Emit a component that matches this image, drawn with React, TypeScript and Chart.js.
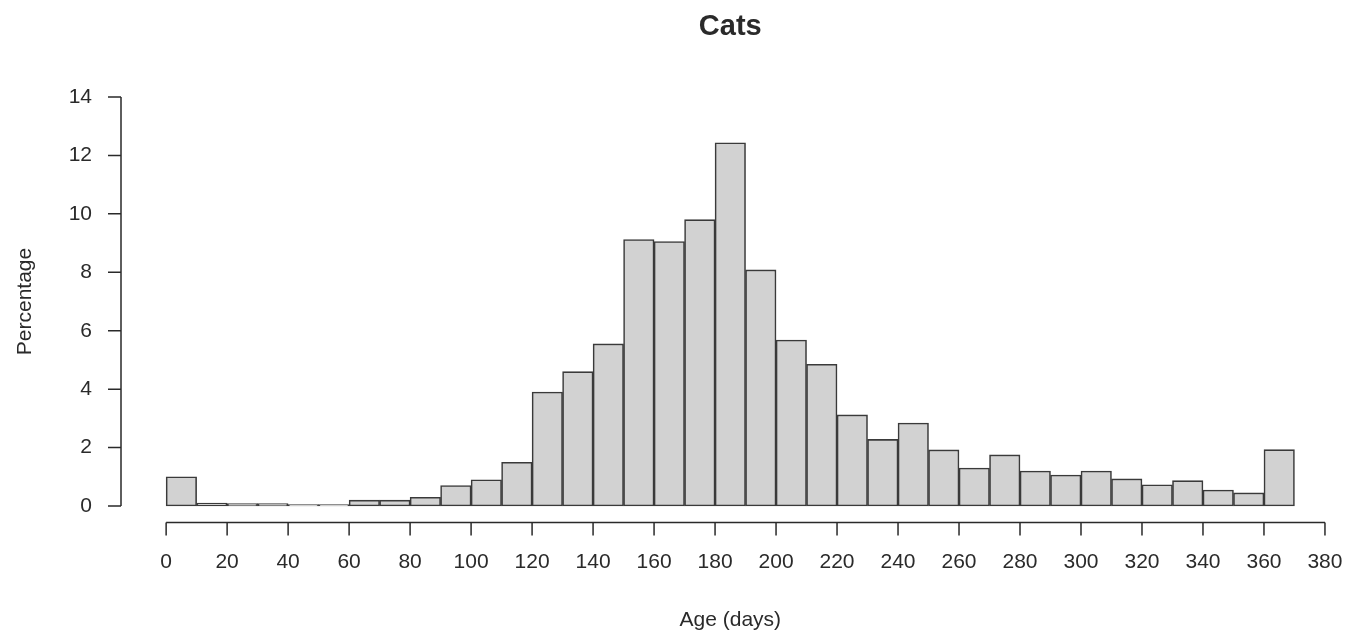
import React, { useEffect, useRef } from "react";
import { Chart, registerables } from "chart.js";

Chart.register(...registerables);

const title = "Cats";
const xAxisTitle = "Age (days)";
const yAxisTitle = "Percentage";
const binStarts = [0, 10, 20, 30, 40, 50, 60, 70, 80, 90, 100, 110, 120, 130, 140, 150, 160, 170, 180, 190, 200, 210, 220, 230, 240, 250, 260, 270, 280, 290, 300, 310, 320, 330, 340, 350, 360];
const binWidth = 10;
const percentages = [1.0, 0.1, 0.08, 0.08, 0.05, 0.05, 0.2, 0.2, 0.3, 0.7, 0.9, 1.5, 3.9, 4.6, 5.55, 9.12, 9.05, 9.8, 12.43, 8.08, 5.68, 4.85, 3.12, 2.28, 2.84, 1.92, 1.3, 1.75, 1.2, 1.06, 1.2, 0.93, 0.73, 0.87, 0.55, 0.45, 1.93];
const xTicks = [0, 20, 40, 60, 80, 100, 120, 140, 160, 180, 200, 220, 240, 260, 280, 300, 320, 340, 360, 380];
const yTicks = [0, 2, 4, 6, 8, 10, 12, 14];

const W = 1361;
const H = 636;
const FONT = "'Liberation Sans', Arial, sans-serif";
const INK = "#2a2a2a";

const rAxesPlugin = {
  id: "rAxes",
  afterDraw(chart: any) {
    const ctx = chart.ctx;
    const xs = chart.scales.x;
    const ys = chart.scales.y;
    const ca = chart.chartArea;
    const tick = 13;
    ctx.save();
    ctx.strokeStyle = INK;
    ctx.fillStyle = INK;
    ctx.lineWidth = 1.5;
    // Y axis
    const yx = ca.left;
    ctx.beginPath();
    ctx.moveTo(yx, ys.getPixelForValue(yTicks[0]));
    ctx.lineTo(yx, ys.getPixelForValue(yTicks[yTicks.length - 1]));
    for (const t of yTicks) {
      const py = ys.getPixelForValue(t);
      ctx.moveTo(yx, py);
      ctx.lineTo(yx - tick, py);
    }
    ctx.stroke();
    ctx.font = `21px ${FONT}`;
    ctx.textAlign = "right";
    ctx.textBaseline = "middle";
    for (const t of yTicks) {
      ctx.fillText(String(t), yx - 29, ys.getPixelForValue(t));
    }
    // X axis
    const xy = ca.bottom;
    ctx.beginPath();
    ctx.moveTo(xs.getPixelForValue(xTicks[0]), xy);
    ctx.lineTo(xs.getPixelForValue(xTicks[xTicks.length - 1]), xy);
    for (const t of xTicks) {
      const px = xs.getPixelForValue(t);
      ctx.moveTo(px, xy);
      ctx.lineTo(px, xy + tick);
    }
    ctx.stroke();
    ctx.textAlign = "center";
    ctx.textBaseline = "middle";
    for (const t of xTicks) {
      ctx.fillText(String(t), xs.getPixelForValue(t), xy + 40);
    }
    // titles
    const cx = (ca.left + ca.right) / 2;
    ctx.font = `bold 29px ${FONT}`;
    ctx.fillText(title, cx, 27);
    ctx.font = `21px ${FONT}`;
    ctx.fillText(xAxisTitle, cx, 620);
    ctx.save();
    ctx.translate(25, (ca.top + ca.bottom) / 2);
    ctx.rotate(-Math.PI / 2);
    ctx.fillText(yAxisTitle, 0, 0);
    ctx.restore();
    ctx.restore();
  },
};

export default function App() {
  const ref = useRef<HTMLCanvasElement>(null);
  useEffect(() => {
    document.body.style.margin = "0";
    const canvas = ref.current!;
    const chart = new Chart(canvas, {
      type: "bar",
      data: {
        datasets: [
          {
            data: binStarts.map((s, i) => ({ x: s + binWidth / 2, y: percentages[i] })),
            backgroundColor: "#d2d2d2",
            borderColor: "#3a3a3a",
            borderWidth: 1.6,
            borderSkipped: false,
            barPercentage: 1,
            categoryPercentage: 1,
          } as any,
        ],
      },
      options: {
        animation: false,
        responsive: false,
        layout: { padding: { left: 121, right: 21.4, top: 80.6, bottom: 113.6 } },
        plugins: { legend: { display: false }, tooltip: { enabled: false }, title: { display: false } },
        scales: {
          x: { type: "linear", min: -14.8, max: 384.8, offset: false, display: false },
          y: { type: "linear", min: -0.56, max: 14.56, offset: false, display: false },
        },
      },
      plugins: [rAxesPlugin],
    });
    return () => chart.destroy();
  }, []);
  return (
    <div style={{ position: "absolute", left: 0, top: 0, width: W, height: H, background: "#fff" }}>
      <canvas ref={ref} width={W} height={H} style={{ display: "block", width: W, height: H }} />
    </div>
  );
}
